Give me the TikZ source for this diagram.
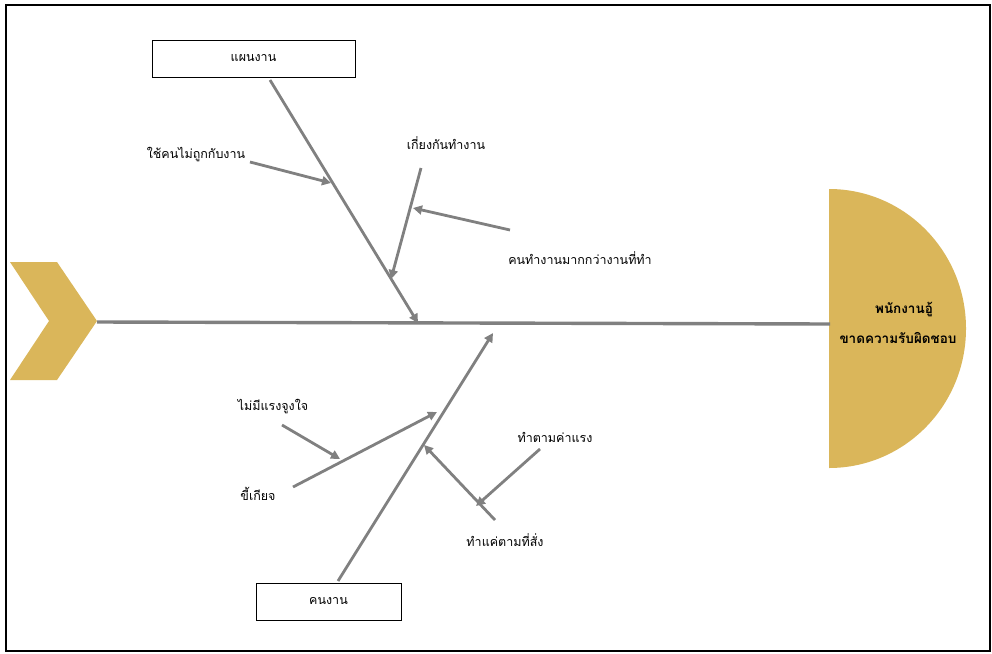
\documentclass[tikz,border=0pt]{standalone}
\usepackage{fontspec}
\setmainfont[Script=Thai]{Loma}
\usetikzlibrary{arrows.meta}
\definecolor{gold}{RGB}{218,182,90}
\definecolor{bone}{RGB}{128,128,128}
\tikzset{
  catbox/.style={draw=black, line width=0.9pt, fill=white, minimum width=203pt, minimum height=37pt, inner sep=0pt, font=\fontsize{12.5}{14}\selectfont},
  cause/.style={inner sep=1pt, font=\fontsize{12.5}{14}\selectfont},
  bonearrow/.style={draw=bone, line width=2.8pt, -{Triangle[length=9pt,width=9pt]}},
  boneline/.style={draw=bone, line width=3.4pt},
  headtext/.style={font=\bfseries\fontsize{13.5}{15}\selectfont, inner sep=0pt}
}
\begin{document}
\begin{tikzpicture}[x=1pt,y=-1pt]
\useasboundingbox (0,0) rectangle (992,653);
% outer frame
\draw[black, line width=1.6pt] (6,5) rectangle (990,651);

% tail chevron
\fill[gold] (10,262) -- (57,262) -- (97,321) -- (57,380) -- (10,380) -- (49,321) -- cycle;
\coordinate (tail) at (97,322);

% fish head
\begin{scope}
  \clip (829,150) rectangle (1000,500);
  \fill[gold] (829,328.5) ellipse [x radius=137, y radius=139.5];
\end{scope}
\coordinate (head) at (830,324);
\node[headtext] (h1) at (904,310) {พนักงานอู้};
\node[headtext] (h2) at (898,338) {ขาดความรับผิดชอบ};

% spine
\draw[boneline] (tail) -- (head);

% upper category
\node[catbox] (plan) at (253.5,58.5) {แผนงาน};
\coordinate (planstart) at (270,80);
\coordinate (planend) at (418,323);
\draw[bonearrow] (planstart) -- (planend);

\node[cause] (c1) at (196,155) {ใช้คนไม่ถูกกับงาน};
\coordinate (c1s) at (250,162);
\coordinate (c1e) at (331,183);
\draw[bonearrow] (c1s) -- (c1e);

\node[cause] (c2) at (446,143) {เกี่ยงกันทำงาน};
\coordinate (c2s) at (421,168);
\coordinate (c2e) at (391,279);
\draw[bonearrow] (c2s) -- (c2e);

\node[cause] (c3) at (580,258) {คนทำงานมากกว่างานที่ทำ};
\coordinate (c3s) at (510,230);
\coordinate (c3e) at (413,208);
\draw[bonearrow] (c3s) -- (c3e);

% lower category
\node[catbox, minimum width=145pt] (staff) at (328.5,601.5) {คนงาน};
\coordinate (staffstart) at (338,581);
\coordinate (staffend) at (493,333);
\draw[bonearrow] (staffstart) -- (staffend);

\node[cause] (c4) at (273,407) {ไม่มีแรงจูงใจ};
\coordinate (c4s) at (282,425);
\coordinate (c4e) at (340,459);
\draw[bonearrow] (c4s) -- (c4e);

\node[cause] (c5) at (258,494) {ขี้เกียจ};
\coordinate (c5s) at (293,487);
\coordinate (c5e) at (437,412);
\draw[bonearrow] (c5s) -- (c5e);

\node[cause] (c6) at (555,437) {ทำตามค่าแรง};
\coordinate (c6s) at (540,449);
\coordinate (c6e) at (476,506);
\draw[bonearrow] (c6s) -- (c6e);

\node[cause] (c7) at (505,540) {ทำแค่ตามที่สั่ง};
\coordinate (c7s) at (495,520);
\coordinate (c7e) at (424,445);
\draw[bonearrow] (c7s) -- (c7e);
\end{tikzpicture}
\end{document}
